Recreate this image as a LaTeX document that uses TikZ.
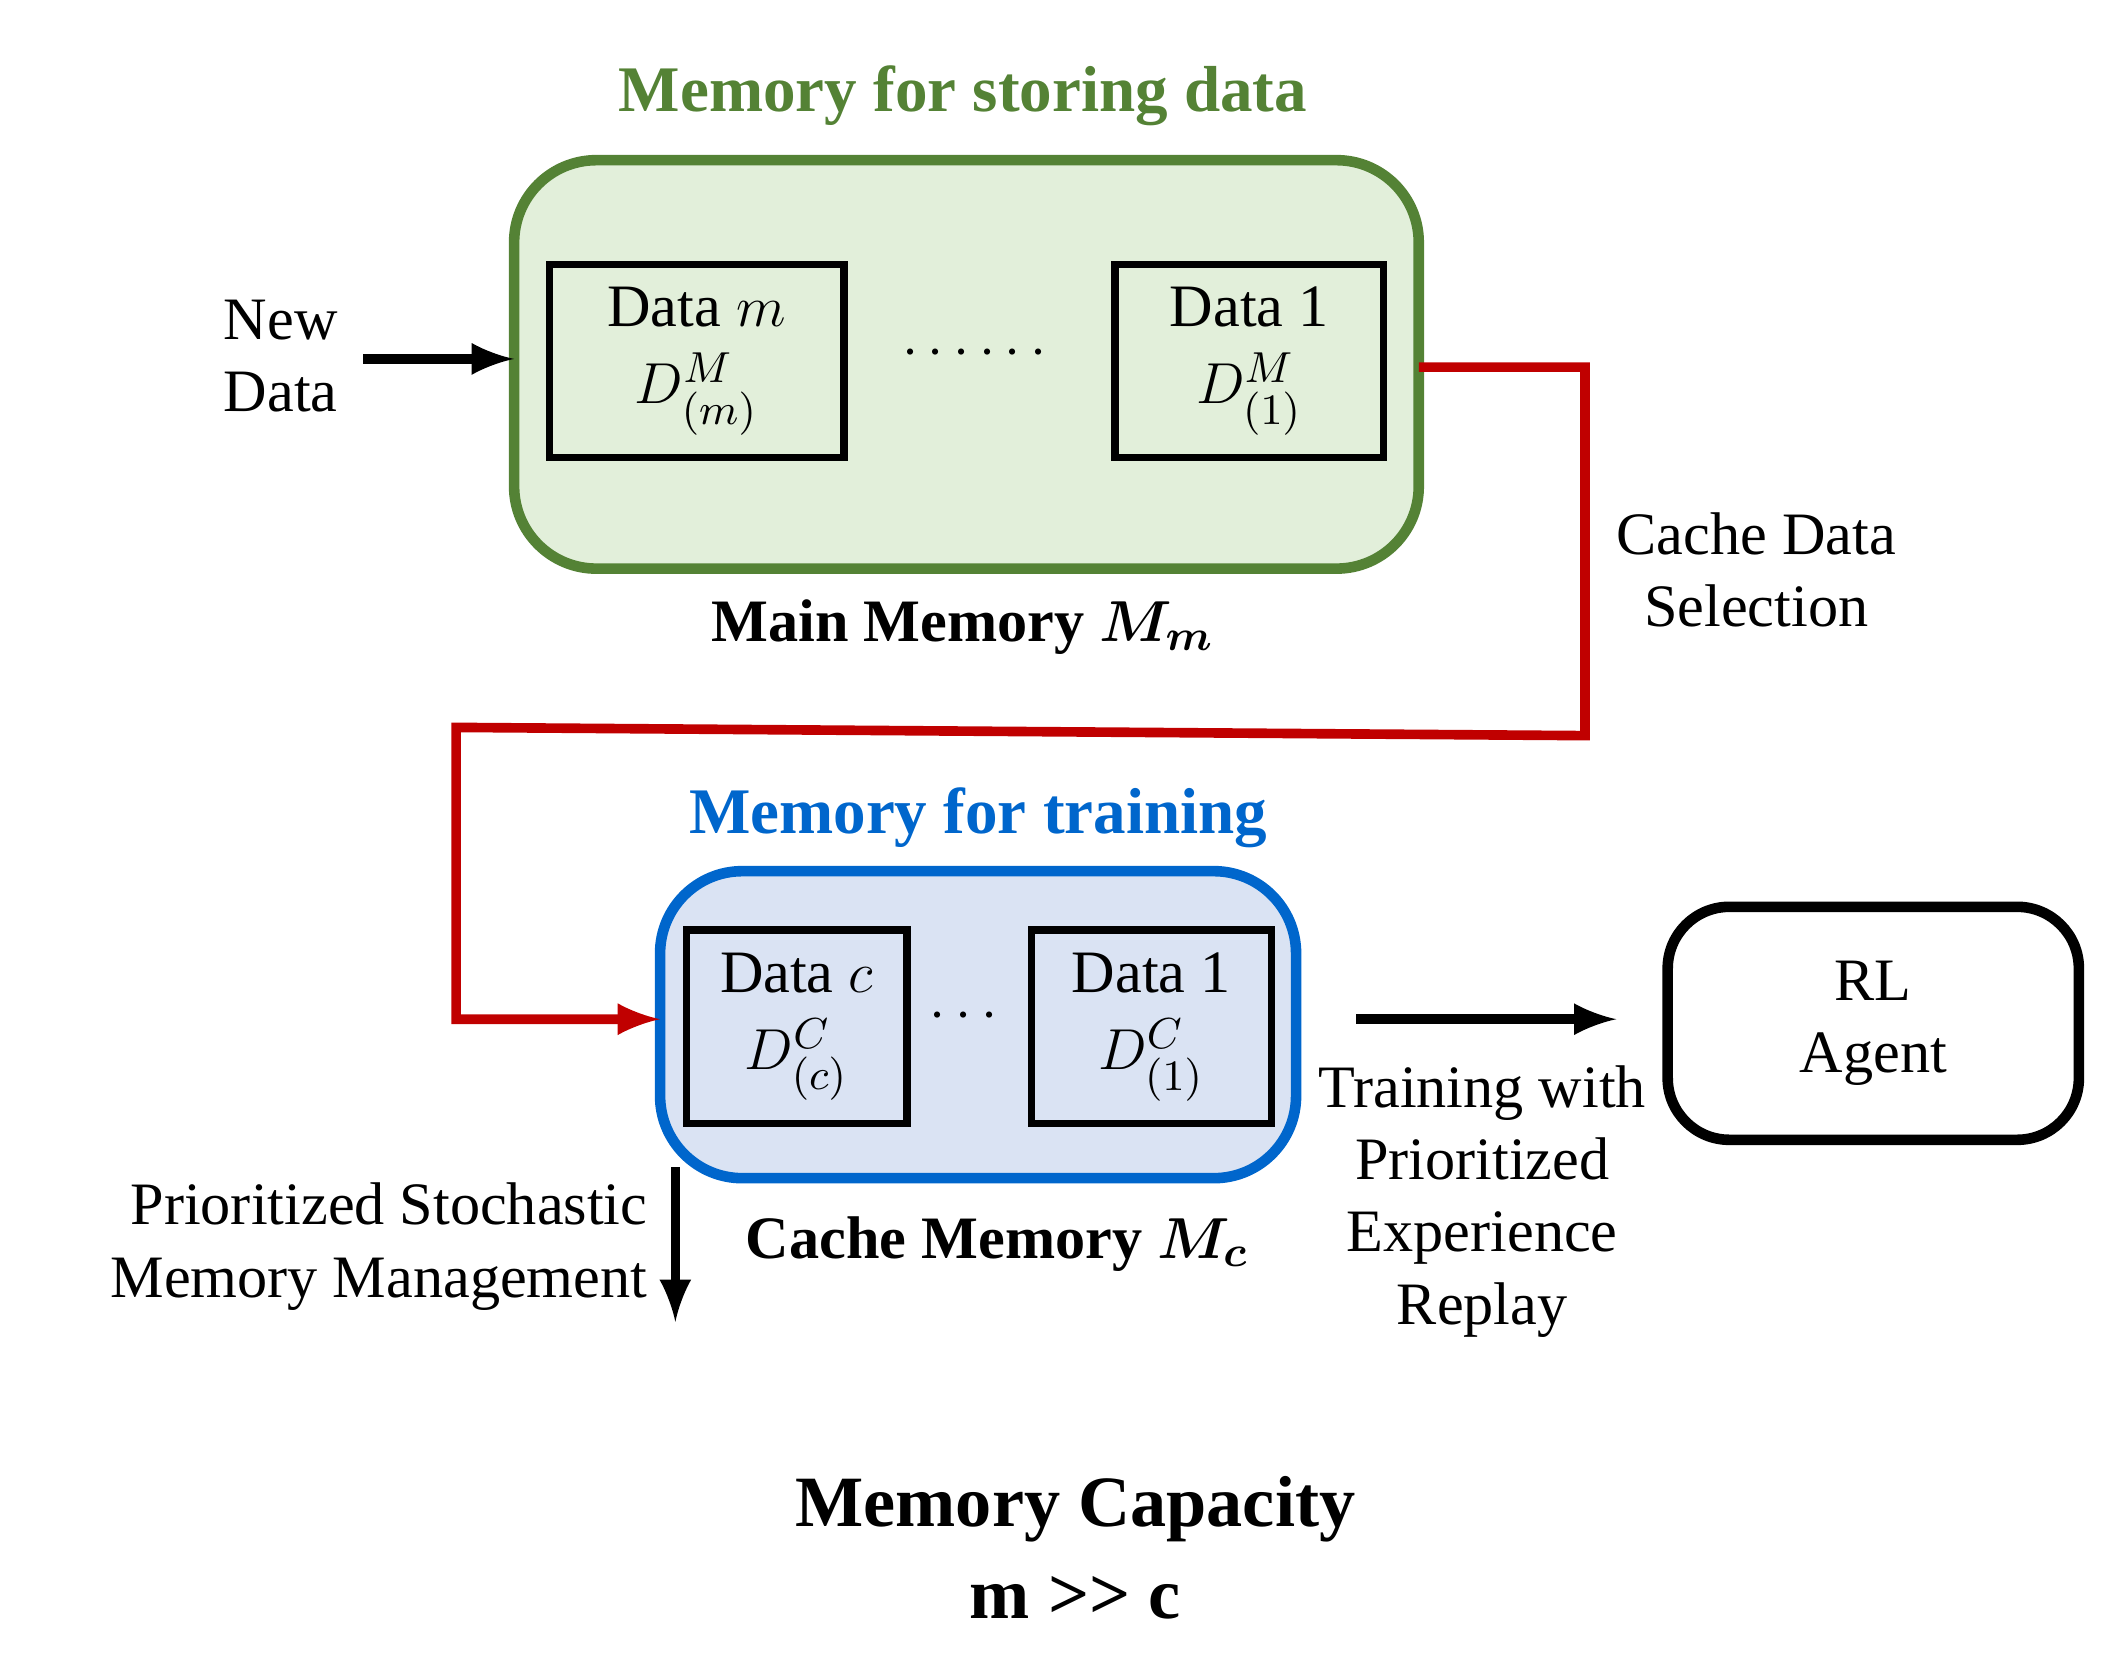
\documentclass[tikz,border=0pt]{standalone}
\usepackage{amsmath,bm}
\usepackage{fontspec}
\setmainfont{Liberation Serif}
\usetikzlibrary{positioning}
\definecolor{mgreen}{HTML}{548235}
\definecolor{lgreen}{HTML}{E2EFDA}
\definecolor{mblue}{HTML}{0066CC}
\definecolor{lblue}{HTML}{DAE3F3}
\definecolor{mred}{HTML}{C00000}
\tikzset{
  membox/.style={rounded corners=0.6cm, line width=2.2pt, outer sep=0pt},
  databox/.style={draw, line width=1.5pt, fill=none, outer sep=0pt},
  lbl/.style={font=\fontsize{12.5}{15}\selectfont, align=center},
  arr/.style={->, line width=2pt, >=latex}
}
\begin{document}
\begin{tikzpicture}[x=0.01cm,y=-0.01cm]
\useasboundingbox (0,0) rectangle (1552,1208);

%%%%%%%%%%%%%%%%%%%%%%%%%%%%%%%%%%%%%%%%%%% main memory
\node[membox, draw=mgreen, fill=lgreen, minimum width=6.6cm, minimum height=2.98cm] (main) at (705.5,266) {};
\node[databox, minimum width=2.15cm, minimum height=1.41cm, lbl] (dm) at (508.5,263.5) {Data $m$\\[1pt]$D^{M}_{(m)}$};
\node[databox, minimum width=1.96cm, minimum height=1.41cm, lbl] (d1) at (912,263.5) {Data 1\\[1pt]$D^{M}_{(1)}$};
\node[lbl] (mdots) at (715,258) {$\cdots\cdots$};
\node[lbl, text=mgreen, font=\bfseries\fontsize{13.5}{16}\selectfont] (mtitle) at (703,70) {Memory for storing data};
\node[lbl, font=\bfseries\fontsize{12.5}{15}\selectfont] (mname) at (703,458) {Main Memory $\bm{M_m}$};
\node[lbl] (new) at (205,260) {New\\Data};
\coordinate (nstart) at (265,262);
\draw[arr] (nstart) -- (main.west |- nstart);

%%%%%%%%%%%%%%%%%%%%%%%%%%%%%%%%%%%%%%%%%%% cache memory
\node[membox, draw=mblue, fill=lblue, minimum width=4.64cm, minimum height=2.24cm] (cache) at (714,748) {};
\node[databox, minimum width=1.61cm, minimum height=1.41cm, lbl] (dc) at (581.5,749.5) {Data $c$\\[1pt]$D^{C}_{(c)}$};
\node[databox, minimum width=1.75cm, minimum height=1.41cm, lbl] (dc1) at (840.5,749.5) {Data 1\\[1pt]$D^{C}_{(1)}$};
\node[lbl] (cdots) at (707,742) {$\cdots$};
\node[lbl, text=mblue, font=\bfseries\fontsize{13.5}{16}\selectfont] (ctitle) at (714,597) {Memory for training};
\node[lbl, font=\bfseries\fontsize{12.5}{15}\selectfont] (cname) at (728,908) {Cache Memory $\bm{M_c}$};

%%%%% cache data selection
\node[lbl] (sel) at (1282,416) {Cache Data\\Selection};
\coordinate (mout) at (main.east |- 0,268);
\draw[->, mred, line width=2pt, >=latex] (mout) -- (1157,268) -- (1157,537) -- (333,531) -- (333,744) -- (cache.west |- 0,744);

%%%%% management
\coordinate (out) at (493,965);
\draw[arr] (493,852) -- (out);
\node[lbl, align=right, anchor=east] (psm) at (485,910) {Prioritized Stochastic\\Memory Management};

%%%%% agent
\node[draw, line width=2.2pt, rounded corners=0.45cm, minimum width=3.0cm, minimum height=1.7cm, lbl] (agent) at (1367.5,747) {RL\\Agent};
\coordinate (tstart) at (990,744);
\coordinate (tend) at (1180,744);
\draw[arr] (tstart) -- (tend);
\node[lbl] (train) at (1082,877) {Training with\\Prioritized\\Experience\\Replay};

%%%%% capacity
\node[lbl, font=\bfseries\fontsize{15}{19}\selectfont] (cap) at (785,1130) {Memory Capacity\\m {>}{>} c};
\end{tikzpicture}
\end{document}
